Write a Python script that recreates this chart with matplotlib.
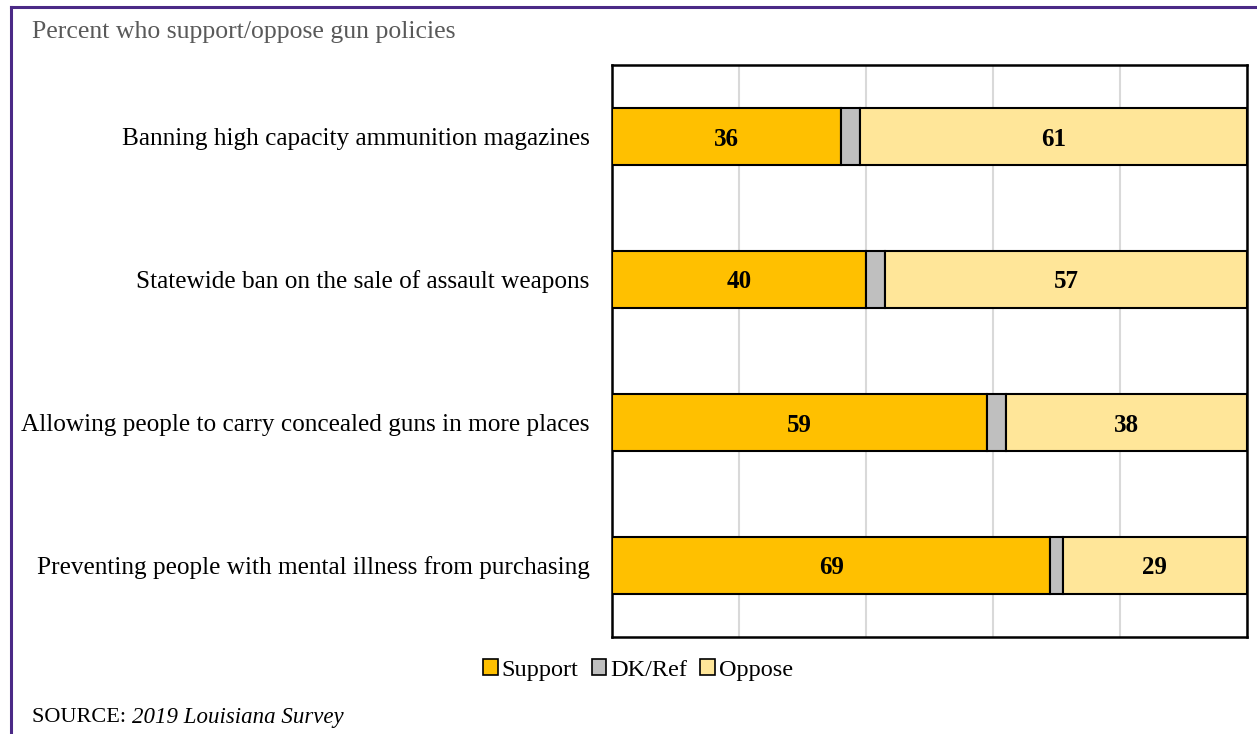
import matplotlib
matplotlib.use("Agg")
import matplotlib.pyplot as plt
from matplotlib.lines import Line2D
from matplotlib.patches import Patch

categories = [
    "Banning high capacity ammunition magazines",
    "Statewide ban on the sale of assault weapons",
    "Allowing people to carry concealed guns in more places",
    "Preventing people with mental illness from purchasing",
]
support = [36, 40, 59, 69]
dkref = [3, 3, 3, 2]
oppose = [61, 57, 38, 29]
series_names = ["Support", "DK/Ref", "Oppose"]
colors = ["#FFC000", "#BFBFBF", "#FFE699"]

FONT = "Liberation Serif"
plt.rcParams["font.family"] = [FONT, "DejaVu Serif"]

fig = plt.figure(figsize=(12.57, 7.34), dpi=100)
ax = fig.add_axes([612 / 1257, 97 / 734, 635 / 1257, 572 / 734])

ypos = list(range(len(categories)))
left_dk = [s for s in support]
left_op = [s + d for s, d in zip(support, dkref)]
h = 0.4
ax.barh(ypos, support, height=h, color=colors[0], edgecolor="black", linewidth=1.5, zorder=3)
ax.barh(ypos, dkref, left=left_dk, height=h, color=colors[1], edgecolor="black", linewidth=1.5, zorder=3)
ax.barh(ypos, oppose, left=left_op, height=h, color=colors[2], edgecolor="black", linewidth=1.5, zorder=3)

for y, s, lo, o in zip(ypos, support, left_op, oppose):
    ax.text(s / 2, y, f"{s}", ha="center", va="center_baseline", fontsize=18, fontweight="bold", zorder=4)
    ax.text(lo + o / 2, y, f"{o}", ha="center", va="center_baseline", fontsize=18, fontweight="bold", zorder=4)

ax.set_xlim(0, 100)
ax.set_ylim(3.5, -0.5)
ax.set_xticks([0, 20, 40, 60, 80, 100])
ax.set_xticklabels([])
ax.tick_params(axis="x", length=0)
ax.grid(axis="x", color="#D9D9D9", linewidth=1.5, zorder=0)
ax.set_yticks(ypos)
ax.set_yticklabels(categories, fontsize=18.2)
ax.tick_params(axis="y", length=0, pad=16)
for sp in ax.spines.values():
    sp.set_linewidth(1.8)
    sp.set_color("black")

handles = [Patch(facecolor=c, edgecolor="black", linewidth=1.2) for c in colors]
fig.legend(handles, series_names, loc="center", bbox_to_anchor=(638 / 1257, 1 - 670 / 734),
           ncol=3, frameon=False, fontsize=17.5, handlelength=0.6, handleheight=0.6,
           handletextpad=0.15, columnspacing=0.55)

fig.text(32 / 1257, 1 - 32 / 734, "Percent who support/oppose gun policies", fontsize=18.5,
         color="#595959", ha="left", va="center")
t1 = fig.text(32 / 1257, 1 - 717 / 734, "SOURCE: ", fontsize=16, color="black", ha="left", va="center")
fig.canvas.draw()
bb = t1.get_window_extent()
fig.text(bb.x1 / 1257, 1 - 717 / 734, "2019 Louisiana Survey", fontsize=16.5, style="italic",
         color="black", ha="left", va="center")

# outer purple frame (left and top)
fig.add_artist(Line2D([11 / 1257, 11 / 1257], [0, 1 - 7 / 734], color="#4B2A86", linewidth=2.2,
                      transform=fig.transFigure))
fig.add_artist(Line2D([11 / 1257, 1], [1 - 7 / 734, 1 - 7 / 734], color="#4B2A86", linewidth=2.2,
                      transform=fig.transFigure))

fig.savefig("out.png", dpi=100)
